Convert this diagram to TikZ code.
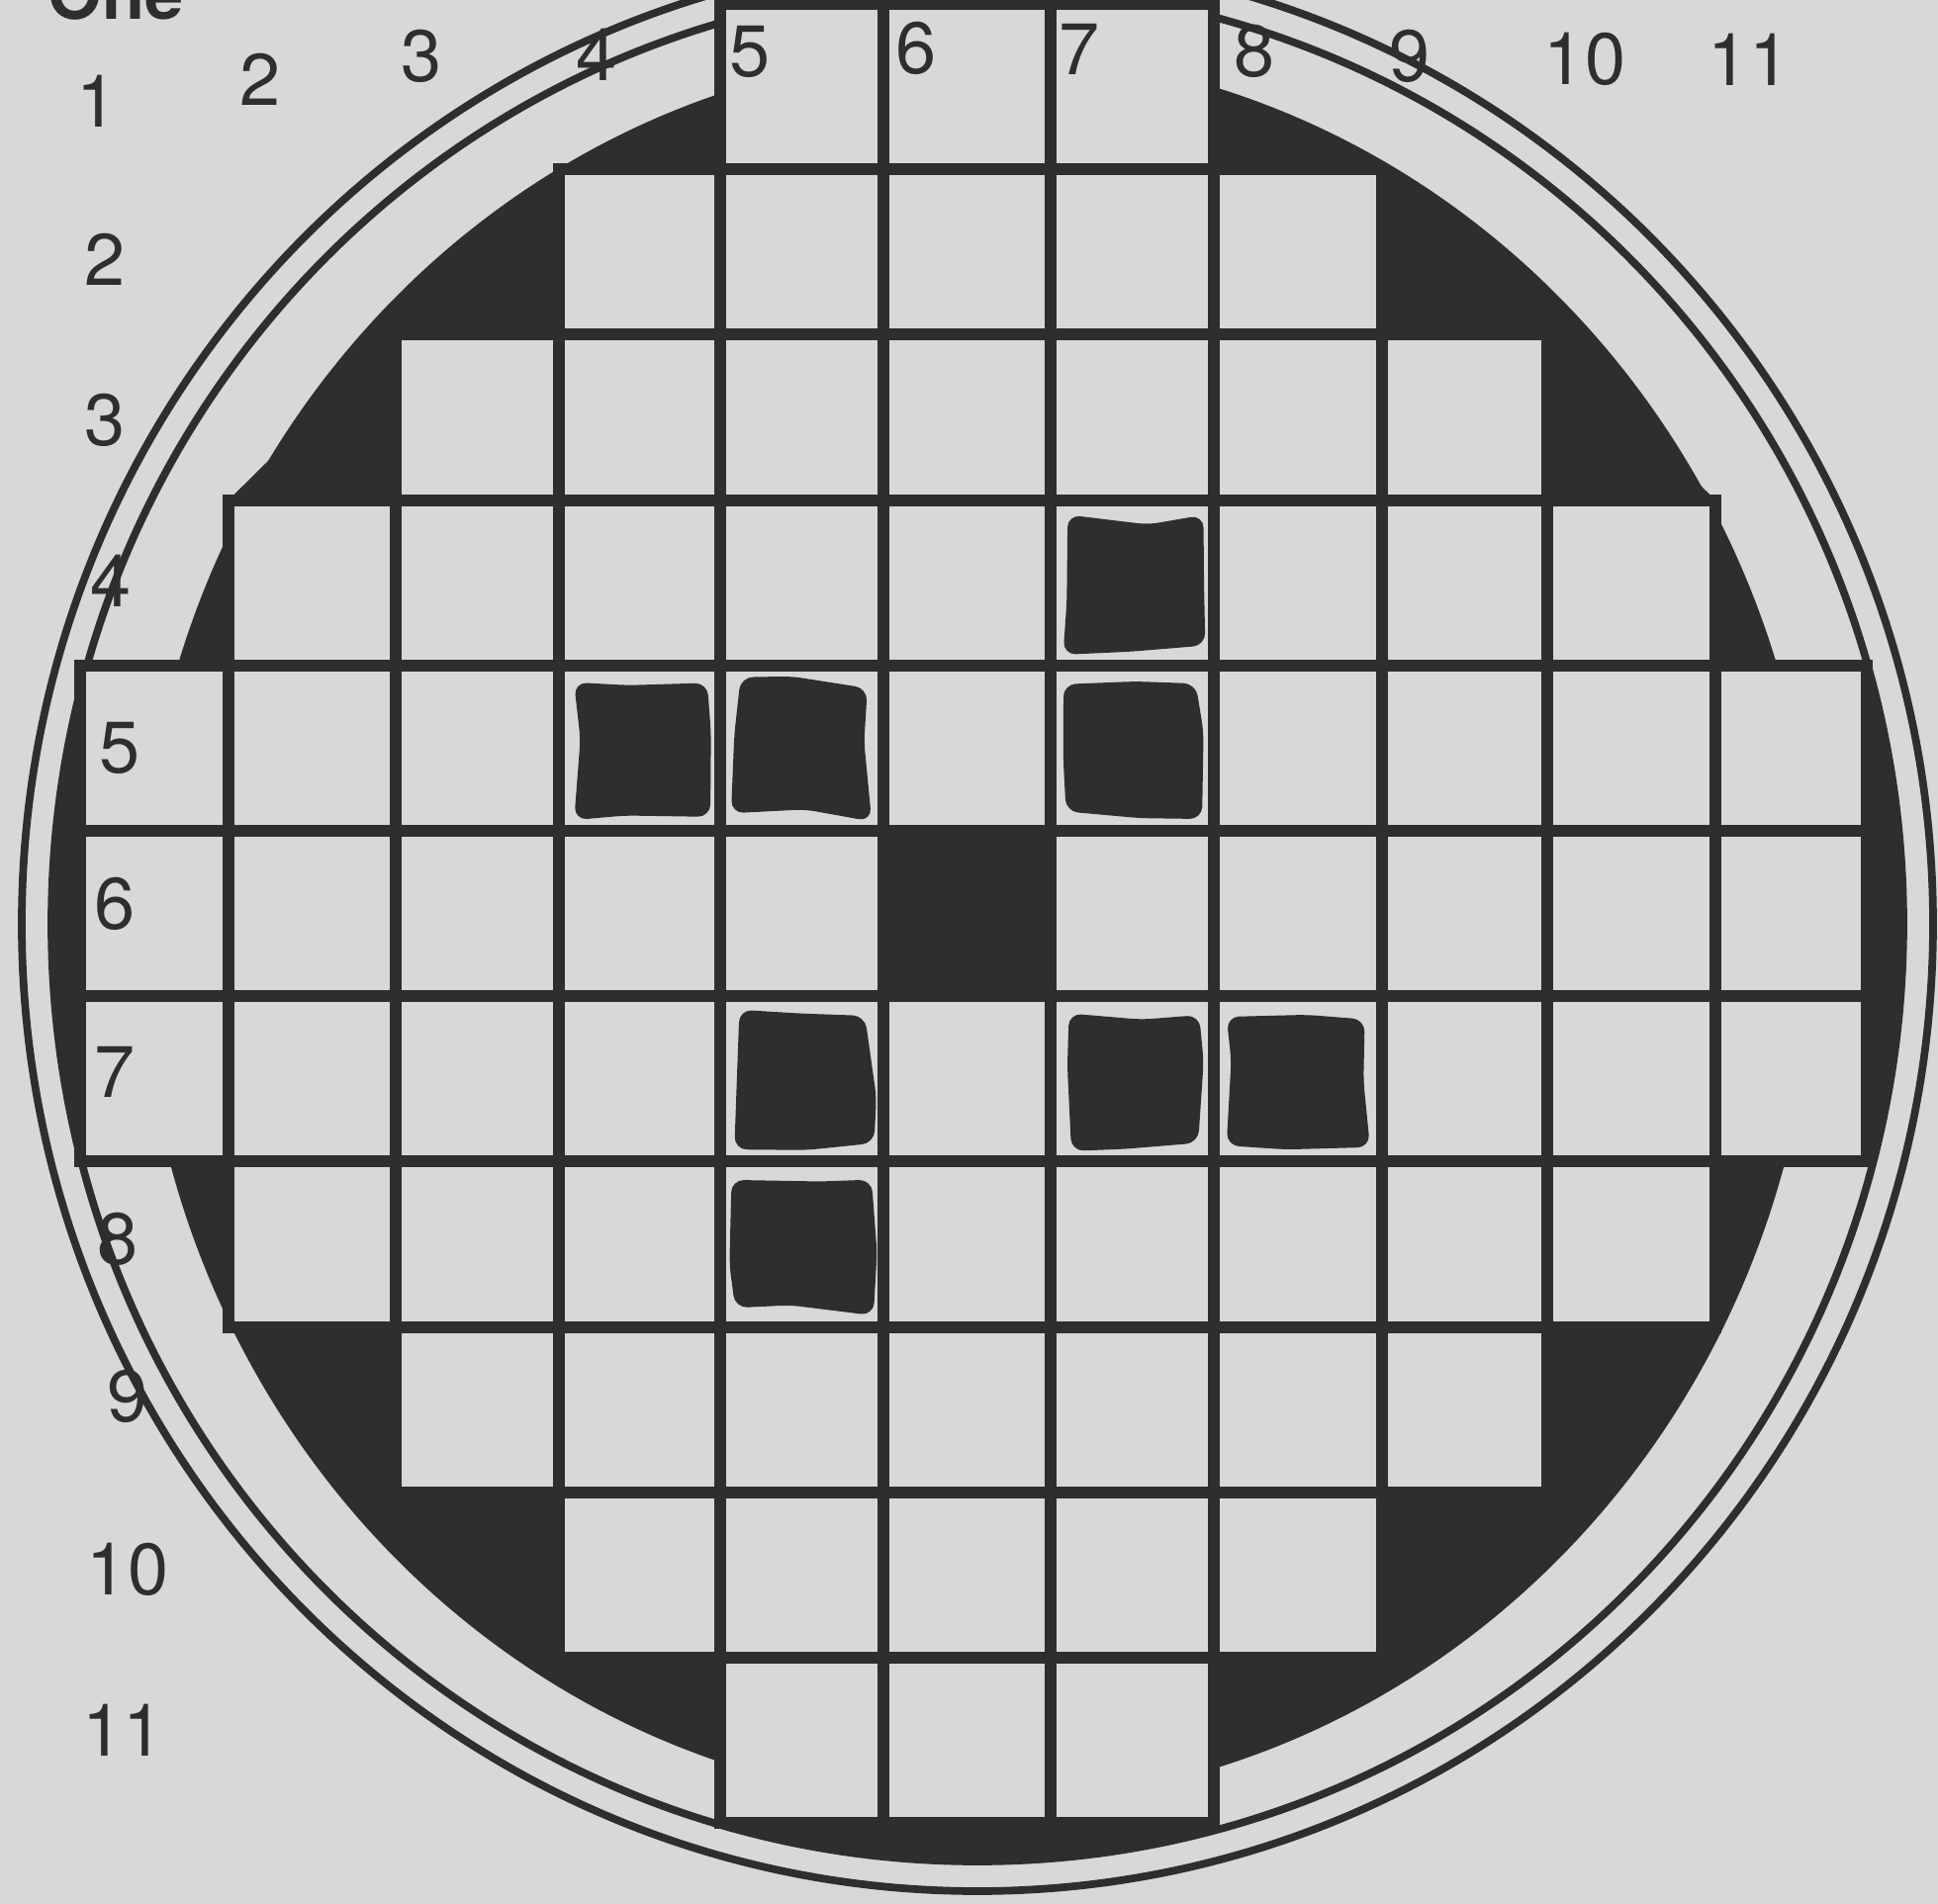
\documentclass[tikz,border=0pt]{standalone}
\usepackage{fontspec}
\setmainfont{TeX Gyre Heros}
\definecolor{paper}{HTML}{D8D8D6}
\definecolor{ink}{HTML}{2E2E2E}
\tikzset{
  cellbox/.style={fill=paper, draw=ink, line width=3.4pt},
  piece/.style={fill=ink, draw=ink, line width=1.2pt, rounded corners=3pt},
  ring/.style={draw=ink, line width=2.2pt},
  lbl/.style={font=\fontsize{21}{25}\selectfont, text=ink, inner sep=0pt}
}
\def\colx{{81,231,400,565,728,893,1062,1227,1397,1564,1734,1887}}
\pgfmathsetseed{7}

\begin{document}
\begin{tikzpicture}[x=0.01cm, y=-0.01cm]
            \useasboundingbox (0,0) rectangle (1959,1925);
            \fill[paper] (0,0) rectangle (1959,1925);
            % dark ground, and the bands round the arms
            \fill[ink] (988,938) ellipse [x radius=847, y radius=886];
            \fill[ink] (565,171.2) -- (1397,171.2) -- (1564,338.4) -- (1734,505.6) -- (1734,1341.6)
                -- (1564,1508.8) -- (1397,1676) -- (565,1676) -- (400,1508.8) -- (231,1341.6)
                -- (231,505.6) -- (400,338.4) -- cycle;
            \begin{scope}
                \clip (0,672.8) rectangle (1959,1174.4) (728,-50) rectangle (1227,1975);
                \fill[ink] (988,934) ellipse [x radius=936, y radius=948];
            \end{scope}
            \draw[ring] (988,934) ellipse [x radius=936, y radius=948];
            \draw[ring] (988,934) ellipse [x radius=966, y radius=978];
            % the board
            \foreach \r/\a/\b in {1/5/7, 2/4/8, 3/3/9, 4/2/10, 5/1/11, 6/1/11, 7/1/11, 8/2/10, 9/3/9, 10/4/8, 11/5/7}
                \foreach \c in {\a,...,\b} {
                    \pgfmathsetmacro\xa{\colx[\c-1]}
                    \pgfmathsetmacro\xb{\colx[\c]}
                    \draw[cellbox] (\xa,{4+(\r-1)*167.2}) rectangle (\xb,{4+\r*167.2});
                }
            \draw[cellbox, fill=ink] (893,840) rectangle (1062,1007.2);
            % pieces, a little ragged
            \foreach \r/\c in {4/7, 5/4, 5/5, 5/7, 7/5, 7/7, 7/8, 8/5} {
                \pgfmathsetmacro\xa{\colx[\c-1]+18}
                \pgfmathsetmacro\xb{\colx[\c]-15}
                \pgfmathsetmacro\ya{4+(\r-1)*167.2+20}
                \pgfmathsetmacro\yb{4+\r*167.2-18}
                \pgfmathsetmacro\xm{(\xa+\xb)/2}
                \pgfmathsetmacro\ym{(\ya+\yb)/2}
                \fill[piece] ({\xa+rand*6},{\ya+rand*6}) -- ({\xm+rand*20},{\ya+rand*7})
                    -- ({\xb+rand*6},{\ya+rand*6}) -- ({\xb+rand*7},{\ym+rand*20})
                    -- ({\xb+rand*6},{\yb+rand*6}) -- ({\xm+rand*20},{\yb+rand*7})
                    -- ({\xa+rand*6},{\yb+rand*6}) -- ({\xa+rand*7},{\ym+rand*20}) -- cycle;
            }
            % numbers
            \node[font=\bfseries\fontsize{20}{24}\selectfont, text=ink, anchor=base west, inner sep=0pt] (head) at (48,20) {One};
            \foreach \n/\x/\y in {1/98/102, 2/263/80, 3/426/57, 4/603/55, 5/758/52, 6/926/49, 7/1091/50, 8/1268/52, 9/1425/57, 10/1602/60, 11/1768/60}
                \node[lbl] (col\n) at (\x,\y) {\n};
            \foreach \n/\x/\y in {2/106/262, 3/106/425, 4/112/587, 5/121/756, 6/116/914, 7/116/1084, 8/119/1253, 9/129/1412, 10/129/1587, 11/125/1749}
                \node[lbl] (row\n) at (\x,\y) {\n};
\end{tikzpicture}
\end{document}
